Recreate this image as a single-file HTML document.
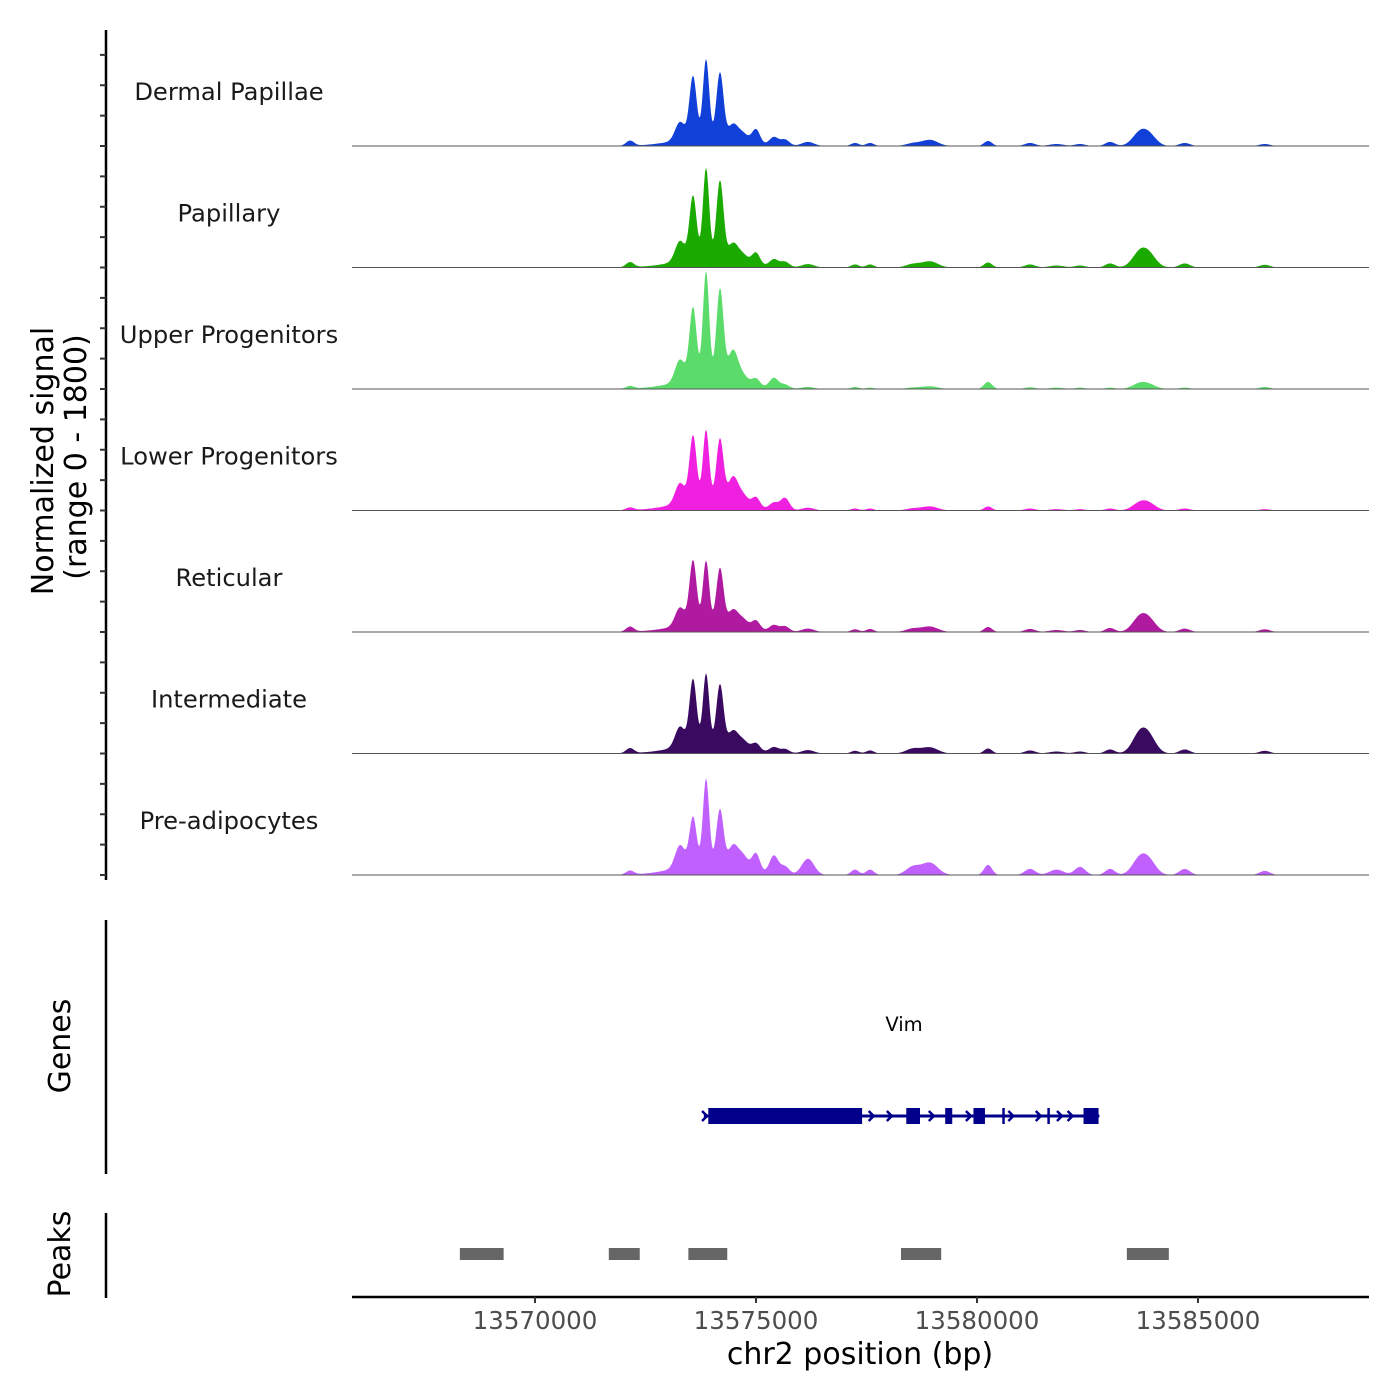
<!DOCTYPE html>
<html><head><meta charset="utf-8"><style>
body{margin:0;background:#fff;}
svg{display:block;font-family:"DejaVu Sans","Liberation Sans",sans-serif;}
</style></head><body>
<svg id="chart" width="1400" height="1400" viewBox="0 0 1400 1400">
<g id="tracks"></g>
<g id="yaxis"></g>
<text transform="translate(53,461) rotate(-90)" text-anchor="middle" font-size="30" fill="#000">Normalized signal</text>
<text transform="translate(86,457) rotate(-90)" text-anchor="middle" font-size="30" fill="#000">(range 0 - 1800)</text>
<line x1="106" y1="920" x2="106" y2="1174" stroke="#000" stroke-width="2.5"/>
<text transform="translate(70,1046) rotate(-90)" text-anchor="middle" font-size="30">Genes</text>
<line x1="106" y1="1213" x2="106" y2="1298" stroke="#000" stroke-width="2.5"/>
<text transform="translate(70,1254) rotate(-90)" text-anchor="middle" font-size="30">Peaks</text>
<g id="gene"></g>
<text x="904" y="1031" text-anchor="middle" font-size="19.5" fill="#000">Vim</text>
<g id="peaks"></g>
<g id="xaxis"></g>
<text x="860" y="1364" text-anchor="middle" font-size="30" fill="#000">chr2 position (bp)</text>
</svg>
<script>
// ---- data ----
const trackNames = ["Dermal Papillae","Papillary","Upper Progenitors","Lower Progenitors","Reticular","Intermediate","Pre-adipocytes"];
const trackColors = ["#1040d8","#1aaa00","#5adb6a","#f020e0","#b01aa0","#3a0a60","#c060ff"];
const peakPos = [13572150,13573280,13573575,13573870,13574185,13574480,13574705,13575000,13575405,13575655,13576175,13577240,13577580,13578550,13578935,13580250,13581200,13581800,13582330,13583010,13583685,13583910,13584700,13586510,13573900];
const peakWidth = [90,110,80,70,80,110,120,90,100,100,140,90,90,160,180,90,120,160,120,110,170,160,120,120,700];
const sigDP  = [75,270,920,1160,970,220,120,210,120,90,60,45,45,40,90,75,45,30,30,60,190,130,45,30,130];
const sigPap = [75,300,940,1340,1160,250,120,180,110,80,50,45,45,50,90,75,45,30,30,60,220,150,60,40,140];
const sigUp  = [40,330,1070,1590,1340,450,120,110,150,60,30,30,20,20,40,105,25,20,20,20,80,50,20,30,160];
const sigLow = [40,300,970,1040,920,370,150,150,100,180,40,30,30,30,60,60,30,20,20,30,110,80,30,20,160];
const sigRet = [75,270,940,920,820,220,120,130,90,80,50,40,45,50,80,75,45,30,30,60,210,140,50,40,140];
const sigInt = [75,300,970,1040,890,220,120,110,80,60,50,40,45,70,90,75,45,30,30,60,290,190,60,40,150];
const sigPre = [60,330,710,1260,820,300,200,270,270,120,240,80,80,120,180,150,90,80,120,90,240,160,90,60,170];
const signals = [sigDP,sigPap,sigUp,sigLow,sigRet,sigInt,sigPre];
const xTicks = [13570000,13575000,13580000,13585000];
const peakStarts = [13568300,13571670,13573470,13578280,13583390];
const peakEnds   = [13569290,13572370,13574350,13579190,13584340];
const exonStarts = [13573920,13578400,13579280,13579920,13582410];
const exonEnds   = [13577400,13578710,13579440,13580180,13582750];
const intronMarks = [13580600,13581620];
const geneStart = 13573820, geneEnd = 13582770;
const arrowPos = [13573870,13577640,13578050,13579000,13579840,13580800,13581420,13581900,13582140];

// ---- scales ----
const X0 = 352, X1 = 1369;
const xs = bp => 535 + (bp - 13570000) * (221/5000);
const trackTop = 24.5, trackH = 121.5, maxSig = 1800;
const ys = (i, v) => trackTop + trackH*(i+1) - v/maxSig*trackH;
const NS = "http://www.w3.org/2000/svg";
function mk(tag, attrs, parent){const e=document.createElementNS(NS,tag);for(const k in attrs)e.setAttribute(k,attrs[k]);parent.appendChild(e);return e;}

const tracks = document.getElementById('tracks');
const xAtBp = x => 13570000 + (x-535)*(5000/221);
signals.forEach((sig,i)=>{
  const base = ys(i,0);
  let d = `M${X0},${base}`;
  for(let px=X0; px<=X1; px+=1){
    const bp = xAtBp(px);
    let v=0;
    for(let k=0;k<peakPos.length;k++){const z=(bp-peakPos[k])/peakWidth[k]; if(Math.abs(z)<5) v+=sig[k]*Math.exp(-0.5*z*z);}
    d += `L${px},${ys(i,Math.min(v,maxSig)).toFixed(2)}`;
  }
  d += `L${X1},${base}Z`;
  const p = mk('path',{d:d,fill:trackColors[i]},tracks);
  
  
  const l = mk('line',{x1:X0,x2:X1,y1:base,y2:base,stroke:'#555','stroke-width':1},tracks);
  
  
  const t = mk('text',{x:229,y:base-46,'text-anchor':'middle','font-size':24.2,fill:'#1a1a1a'},tracks);
  t.textContent = trackNames[i];
  
  
});

// y axis
const ya = document.getElementById('yaxis');
mk('line',{x1:106,x2:106,y1:30,y2:880,stroke:'#000','stroke-width':2.5},ya);
for(let j=0;j<=27;j++){
  const y = trackTop + trackH*7 - j*trackH/4;
  if(y<45) continue;
  const tk = mk('line',{x1:100,x2:106,y1:y,y2:y,stroke:'#333','stroke-width':2},ya);
  
  
}

// gene model
const g = document.getElementById('gene');
const gy = 1116;
mk('line',{x1:xs(geneStart),x2:xs(geneEnd),y1:gy,y2:gy,stroke:'#00008b','stroke-width':3},g);
arrowPos.forEach(bp=>{
  const x=xs(bp);
  const a = mk('path',{d:`M${x-4},${gy-5}L${x+1},${gy}L${x-4},${gy+5}`,fill:'none',stroke:'#00008b','stroke-width':2.5},g);
  
  
});
exonStarts.forEach((s,k)=>{
  const r = mk('rect',{x:xs(s),y:gy-8,width:xs(exonEnds[k])-xs(s),height:16,fill:'#00008b'},g);
  
  
});
intronMarks.forEach(bp=>{
  const l = mk('line',{x1:xs(bp),x2:xs(bp),y1:gy-8,y2:gy+8,stroke:'#00008b','stroke-width':2.5},g);
  
  
});

// peaks
const pk = document.getElementById('peaks');
peakStarts.forEach((s,k)=>{
  const r = mk('rect',{x:xs(s),y:1248,width:xs(peakEnds[k])-xs(s),height:12,fill:'#666'},pk);
  
  
});

// x axis
const xa = document.getElementById('xaxis');
mk('line',{x1:X0,x2:X1,y1:1297,y2:1297,stroke:'#000','stroke-width':2.5},xa);
xTicks.forEach(v=>{
  const x=xs(v);
  const tk = mk('line',{x1:x,x2:x,y1:1297,y2:1303,stroke:'#333','stroke-width':2},xa);
  
  
  const t = mk('text',{x:x,y:1329,'text-anchor':'middle','font-size':24.5,fill:'#4d4d4d'},xa);
  t.textContent = v;
  
  
});
</script>
</body></html>
